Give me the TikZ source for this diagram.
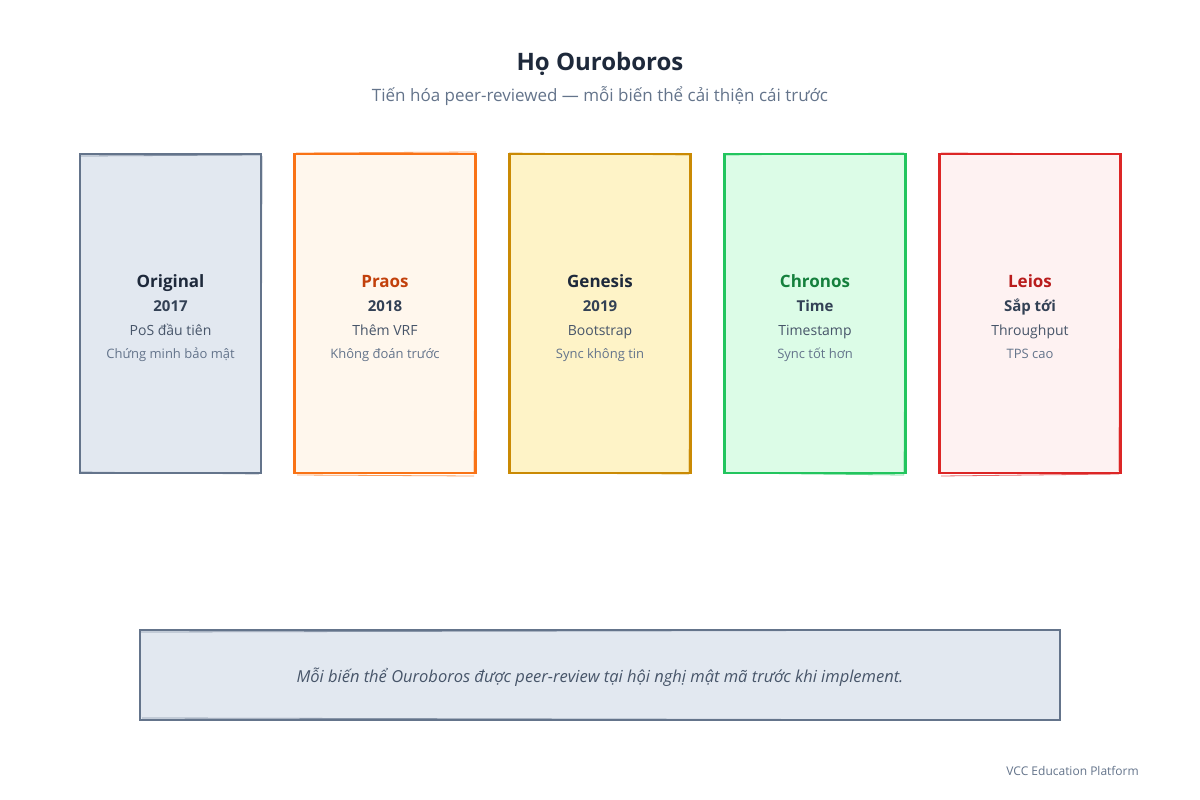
\documentclass[tikz,border=0pt]{standalone}
\usepackage{fontspec}
\setmainfont{Open Sans}
\definecolor{slate}{HTML}{64748B}
\definecolor{slatefill}{HTML}{E2E8F0}
\definecolor{dark}{HTML}{1E293B}
\definecolor{mid}{HTML}{334155}
\definecolor{txt}{HTML}{475569}
\definecolor{light}{HTML}{64748B}
\definecolor{orst}{HTML}{F97316}\definecolor{orfi}{HTML}{FFF7ED}\definecolor{orna}{HTML}{C2410C}
\definecolor{yest}{HTML}{CA8A04}\definecolor{yefi}{HTML}{FEF3C7}
\definecolor{grst}{HTML}{22C55E}\definecolor{grfi}{HTML}{DCFCE7}\definecolor{grna}{HTML}{15803D}
\definecolor{rdst}{HTML}{DC2626}\definecolor{rdfi}{HTML}{FEF2F2}\definecolor{rdna}{HTML}{B91C1C}
\tikzset{
  card/.style={draw=#1, line width=2.2pt, minimum width=181pt, minimum height=319pt, inner sep=0pt},
  lbl/.style={anchor=base, inner sep=0pt},
  nametxt/.style={lbl, font=\fontsize{17}{20}\selectfont\bfseries},
  yeartxt/.style={lbl, font=\fontsize{15}{18}\selectfont\bfseries, text=mid},
  desctxt/.style={lbl, font=\fontsize{14}{17}\selectfont, text=txt},
  subtxt/.style={lbl, font=\fontsize{13}{16}\selectfont, text=light},
}
\begin{document}
\begin{tikzpicture}[x=1pt,y=-1pt]
\useasboundingbox (0,0) rectangle (1200,800);
\fill[white] (0,0) rectangle (1200,800);
\node[lbl, font=\fontsize{24}{28}\selectfont\bfseries, text=dark] (title) at (600,70.5) {Họ Ouroboros};
\node[lbl, font=\fontsize{17}{20}\selectfont, text=light] (subtitle) at (600,102) {Tiến hóa peer-reviewed — mỗi biến thể cải thiện cái trước};

% cards
\node[card=slate, fill=slatefill] (c1) at (170.5,313.5) {};
\node[card=orst, fill=orfi] (c2) at (385,313.5) {};
\node[card=yest, fill=yefi] (c3) at (600,313.5) {};
\node[card=grst, fill=grfi] (c4) at (815,313.5) {};
\node[card=rdst, fill=rdfi] (c5) at (1030,313.5) {};
% sketchy second strokes
\draw[slate, line width=0.8pt, opacity=0.7] (81,156) -- (260,155) (262,156) -- (261,472) (259,474) -- (79,472);
\draw[orst, line width=0.8pt, opacity=0.7] (296,153) -- (476,152) (476,154) -- (474,474) (474,476) -- (297,475);
\draw[yest, line width=0.8pt, opacity=0.7] (509,153) -- (689,155) (691,156) -- (689,472) (689,474) -- (511,473);
\draw[grst, line width=0.8pt, opacity=0.7] (726,155) -- (904,153) (906,156) -- (904,474) (904,475) -- (726,473);
\draw[rdst, line width=0.8pt, opacity=0.7] (941,153) -- (1120,154) (1120,156) -- (1119,471) (1119,474) -- (941,476);

\foreach \n/\x/\a/\b/\c/\d/\col in {
  c1/170.5/Original/2017/PoS đầu tiên/Chứng minh bảo mật/dark,
  c2/385/Praos/2018/Thêm VRF/Không đoán trước/orna,
  c3/600/Genesis/2019/Bootstrap/Sync không tin/dark,
  c4/815/Chronos/Time/Timestamp/Sync tốt hơn/grna,
  c5/1030/Leios/Sắp tới/Throughput/TPS cao/rdna}{
  \node[nametxt, text=\col] (\n-name) at (\x,287) {\a};
  \node[yeartxt] (\n-year) at (\x,311.5) {\b};
  \node[desctxt] (\n-desc) at (\x,335) {\c};
  \node[subtxt] (\n-sub) at (\x,358) {\d};
}

% note box
\node[draw=slate, fill=slatefill, line width=2.5pt, minimum width=920pt, minimum height=90pt, inner sep=0pt] (note) at (600,675) {};
\draw[slate, line width=0.8pt, opacity=0.7] (141,632) -- (1059,630) (1059,720) -- (142,718);
\node[lbl, font=\fontsize{16.5}{19}\selectfont\itshape, text=txt] (notetxt) at (600,682) {Mỗi biến thể Ouroboros được peer-review tại hội nghị mật mã trước khi implement.};

\node[font=\fontsize{12}{14}\selectfont, text=light, anchor=base east, inner sep=0pt] (footer) at (1139,775) {VCC Education Platform};
\end{tikzpicture}
\end{document}
